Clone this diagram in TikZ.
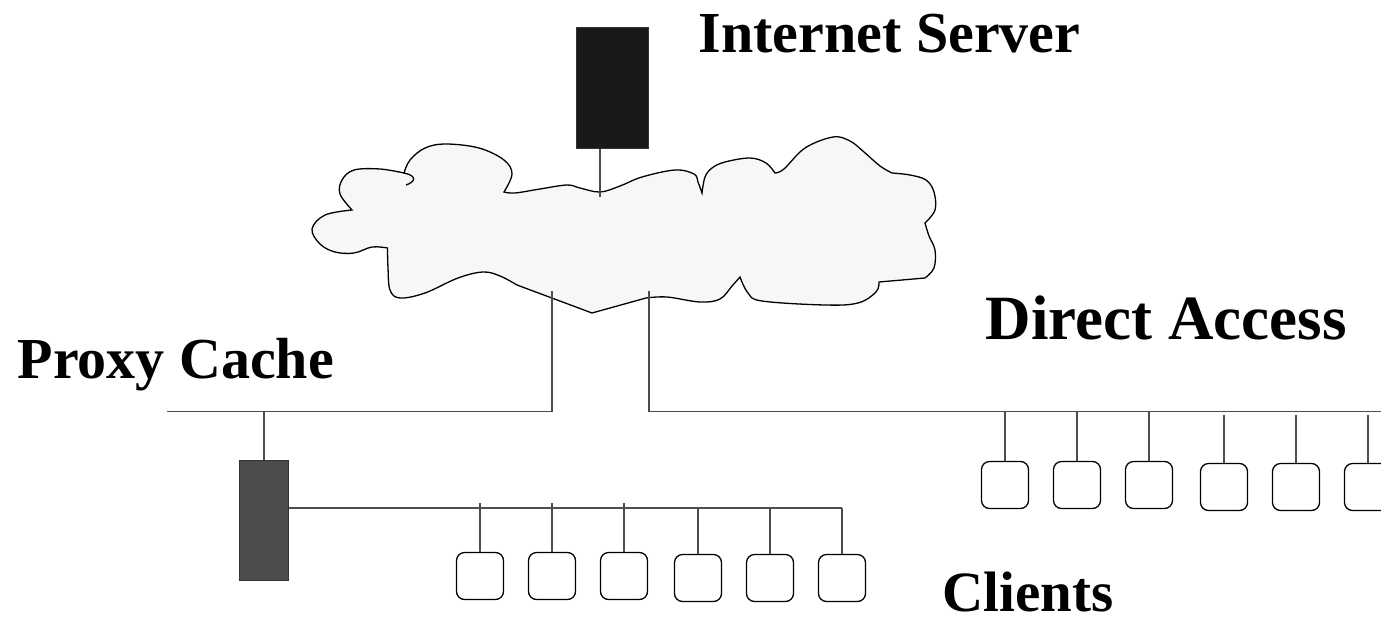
\documentclass[tikz,border=0pt]{standalone}
\usepackage{fontspec}
\setmainfont{Liberation Serif}
\newlength{\du}
\setlength{\du}{1pt}
\definecolor{cloudgray}{rgb}{0.968627, 0.968627, 0.968627}
\definecolor{linkgray}{rgb}{0.300000, 0.300000, 0.300000}
\definecolor{serverfill}{rgb}{0.100000, 0.100000, 0.100000}
\definecolor{proxyfill}{rgb}{0.300000, 0.300000, 0.300000}
\tikzset{
  hostbox/.style={draw=black, fill=white, line width=1.300000\du, rounded corners=8\du,
    minimum width=47\du, minimum height=47\du, inner sep=0pt},
  machinebox/.style={draw=black!80, line width=1.000000\du, inner sep=0pt},
  labeltext/.style={inner sep=0pt, anchor=base west, text=black,
    font=\bfseries\fontsize{58}{70}\selectfont},
  link/.style={draw=linkgray, line width=1.600000\du},
}

\begin{document}
\begin{tikzpicture}
\pgftransformxscale{1.000000}
\pgftransformyscale{-1.000000}
\useasboundingbox (0\du,0\du) rectangle (1381\du,619\du);
\pgfsetdash{}{0pt}
\pgfsetmiterjoin
% the cloud
\pgfsetlinewidth{1.300000\du}
\path[draw=black, fill=cloudgray]
  plot[smooth, tension=0.6] coordinates {(352\du,210\du) (340\du,194\du) (342\du,180\du) (354\du,170\du) (380\du,169\du) (404\du,173\du)}
  -- plot[smooth, tension=0.6] coordinates {(404\du,173\du) (410\du,160\du) (425\du,148\du) (446\du,144\du) (479\du,148\du) (504\du,160\du) (512\du,174\du) (504\du,192\du)}
  -- plot[smooth, tension=0.6] coordinates {(504\du,192\du) (515\du,193\du) (540\du,189\du) (567\du,185\du) (580\du,188\du) (600\du,192\du) (620\du,186\du) (642\du,177\du) (675\du,170\du) (694\du,174\du) (698\du,182\du) (702\du,193\du)}
  -- plot[smooth, tension=0.6] coordinates {(702\du,193\du) (705\du,177\du) (712\du,168\du) (725\du,162\du) (750\du,158\du) (766\du,163\du) (775\du,173\du)}
  -- plot[smooth, tension=0.6] coordinates {(775\du,173\du) (784\du,169\du) (805\du,148\du) (833\du,137\du) (850\du,141\du) (864\du,152\du) (880\du,166\du) (892\du,173\du)}
  -- plot[smooth, tension=0.6] coordinates {(892\du,173\du) (910\du,175\du) (926\du,180\du) (934\du,192\du) (935\du,210\du) (925\du,223\du)}
  -- plot[smooth, tension=0.6] coordinates {(925\du,223\du) (929\du,236\du) (935\du,250\du) (934\du,268\du) (925\du,278\du)}
  -- plot[smooth, tension=0.6] coordinates {(925\du,278\du) (902\du,280\du) (879\du,282\du)}
  -- plot[smooth, tension=0.6] coordinates {(879\du,282\du) (876\du,292\du) (858\du,303\du) (825\du,305\du) (762\du,301\du) (748\du,293\du) (740\du,277\du)}
  -- plot[smooth, tension=0.6] coordinates {(740\du,277\du) (732\du,286\du) (720\du,299\du) (700\du,302\du) (667\du,297\du) (646\du,298\du)}
  -- (592\du,313\du) -- (517\du,285\du)
  -- plot[smooth, tension=0.6] coordinates {(517\du,285\du) (500\du,276\du) (483\du,272\du) (458\du,278\du) (425\du,293\du) (400\du,298\du) (390\du,290\du) (388\du,268\du) (387.5\du,248\du)}
  -- plot[smooth, tension=0.6] coordinates {(387.5\du,248\du) (372\du,247\du) (354\du,253\du) (335\du,252\du) (320\du,244\du) (312\du,229\du) (325\du,215\du) (352\du,210\du)}
  -- cycle;
\draw[line width=1.300000\du] (404\du,173\du) .. controls (418\du,176\du) and (415\du,182\du) .. (406\du,185\du);
% machines
\node[machinebox, fill=serverfill, minimum width=72\du, minimum height=121\du] (server) at (612\du,87.5\du){};
\node[machinebox, fill=proxyfill, minimum width=49\du, minimum height=120\du] (proxy) at (264\du,520\du){};
% clients behind the proxy
\node[hostbox] (c1) at (480\du,576\du){};
\node[hostbox] (c2) at (552\du,576\du){};
\node[hostbox] (c3) at (624\du,576\du){};
\node[hostbox] (c4) at (698\du,578\du){};
\node[hostbox] (c5) at (770\du,578\du){};
\node[hostbox] (c6) at (842\du,578\du){};
% direct access clients
\node[hostbox] (d1) at (1005\du,485\du){};
\node[hostbox] (d2) at (1077\du,485\du){};
\node[hostbox] (d3) at (1149\du,485\du){};
\node[hostbox] (d4) at (1224\du,487\du){};
\node[hostbox] (d5) at (1296\du,487\du){};
\node[hostbox] (d6) at (1368\du,487\du){};
% link points
\coordinate (cloudtop) at (600\du,197\du);
\coordinate (cloudL) at (552\du,291\du);
\coordinate (cloudR) at (649\du,291\du);
\coordinate (busL) at (167\du,411.5\du);
\coordinate (busR) at (1381\du,411.5\du);
\coordinate (cbus) at (842\du,507.7\du);
\coordinate (ctick) at (0\du,503\du);
\coordinate (dgap) at (0\du,415\du);
% links
{
\draw[link] (cloudtop |- server.south) -- (cloudtop);
\draw[link] (busL) -- (cloudL |- busL) -- (cloudL);
\draw[link] (cloudR) -- (cloudR |- busR) -- (busR);
\draw[link] (proxy.north) -- (proxy.north |- busL);
\draw[link] (proxy.east |- cbus) -- (cbus);
\draw[link] (c1.north) -- (c1.north |- ctick);
\draw[link] (c2.north) -- (c2.north |- ctick);
\draw[link] (c3.north) -- (c3.north |- ctick);
\draw[link] (c4.north) -- (c4.north |- cbus);
\draw[link] (c5.north) -- (c5.north |- cbus);
\draw[link] (c6.north) -- (c6.north |- cbus);
\draw[link] (d1.north) -- (d1.north |- busR);
\draw[link] (d2.north) -- (d2.north |- busR);
\draw[link] (d3.north) -- (d3.north |- busR);
\draw[link] (d4.north) -- (d4.north |- dgap);
\draw[link] (d5.north) -- (d5.north |- dgap);
\draw[link] (d6.north) -- (d6.north |- dgap);
}
% labels
\node[labeltext] (srvlabel) at (698\du,52.7\du){Internet Server};
\node[labeltext, font=\bfseries\fontsize{63}{75}\selectfont] (directlabel) at (985\du,339.3\du){Direct Access};
\node[labeltext] (proxylabel) at (17\du,378\du){Proxy Cache};
\node[labeltext, font=\bfseries\fontsize{57}{68}\selectfont] (clientlabel) at (942\du,611.5\du){Clients};
\end{tikzpicture}
\end{document}
